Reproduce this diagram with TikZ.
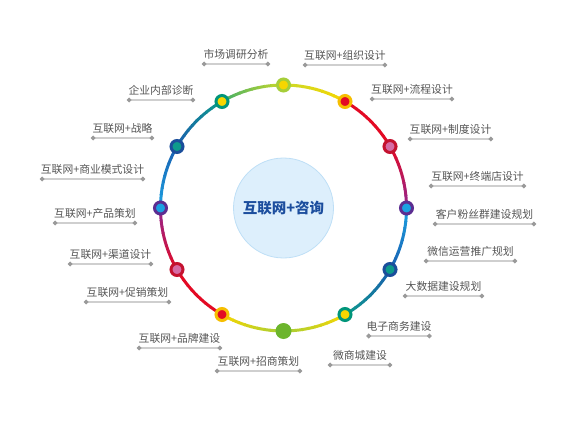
\documentclass[tikz,border=0pt]{standalone}
\usepackage{fontspec}
\usetikzlibrary{arrows.meta}
\newfontfamily\cjk{Noto Sans CJK SC}

\definecolor{jauneVert}{HTML}{CAD92A}
\definecolor{vertJaune}{HTML}{A6CE39}
\definecolor{jaune}{HTML}{F7D600}
\definecolor{rouge}{HTML}{E30A24}
\definecolor{violet}{HTML}{93268F}
\definecolor{bleuClair}{HTML}{1BA1E2}
\definecolor{bleuFonce}{HTML}{1A5EAF}
\definecolor{sarcelle}{HTML}{0E9A8C}
\definecolor{vertSarcelle}{HTML}{3FAE6A}
\definecolor{or}{HTML}{F6BE00}
\definecolor{cramoisi}{HTML}{C4122F}
\definecolor{rose}{HTML}{D66BA5}
\definecolor{violetFonce}{HTML}{5C2D91}
\definecolor{marine}{HTML}{1B4E9B}
\definecolor{vertFonce}{HTML}{00957A}
\definecolor{vertPomme}{HTML}{6CB52D}
\definecolor{ciel}{HTML}{DDEFFC}
\definecolor{cielBord}{HTML}{BEDFF6}
\definecolor{bleuTexte}{HTML}{1C4E9E}
\definecolor{grisTexte}{HTML}{555555}
\definecolor{grisTrait}{HTML}{CFCFCF}
\definecolor{grisPoint}{HTML}{9A9A9A}

\begin{document}
\begin{tikzpicture}[x=1pt,y=1pt]
    \tikzstyle{anneau}=[line width=3pt]
    \tikzstyle{pastille}=[circle, minimum size=12pt, inner sep=0pt, line width=3pt]
    \tikzstyle{etiquette}=[anchor=south, inner xsep=0pt, inner ysep=4pt, text height=8.5pt, text depth=1.5pt, font=\cjk\fontsize{10.8}{12}\selectfont, text=grisTexte]
    \tikzstyle{trait}=[line width=1.2pt, grisTrait, {Circle[length=4.6pt,color=grisPoint]}-{Circle[length=4.6pt,color=grisPoint]}]

    \useasboundingbox (0,0) rectangle (576,432);

    \begin{scope}[shift={(283.5,224)}]
        % coloured ring
        \foreach \a/\ca/\cb in {90/jauneVert/jaune, 60/rouge/rouge, 30/rouge/violet, 0/bleuClair/bleuFonce, -30/bleuFonce/sarcelle, -60/jaune/vertJaune, -90/vertJaune/jaune, -120/rouge/rouge, -150/rouge/violet, -180/bleuClair/bleuFonce, -210/bleuFonce/sarcelle, -240/vertSarcelle/jauneVert}
            \foreach \k in {0,...,9} {
                \pgfmathsetmacro\p{\k*10+5}
                \draw [anneau, color=\cb!\p!\ca] ({\a-3*\k}:123) arc [start angle={\a-3*\k}, delta angle=-3.4, radius=123];
            }
        % centre
        \node [circle, minimum size=100pt, fill=ciel, draw=cielBord, line width=0.8pt, text=bleuTexte, font=\cjk\bfseries\fontsize{14.5}{16}\selectfont] (centre) at (0,0) {互联网+咨询};
        % dots
        \node [pastille, draw=vertJaune, fill=jaune] (p90) at (90:123) {};
        \node [pastille, draw=or, fill=rouge] (p60) at (60:123) {};
        \node [pastille, draw=cramoisi, fill=rose] (p30) at (30:123) {};
        \node [pastille, draw=violetFonce, fill=bleuClair] (p0) at (0:123) {};
        \node [pastille, draw=marine, fill=sarcelle] (pm30) at (-30:123) {};
        \node [pastille, draw=vertFonce, fill=jaune] (pm60) at (-60:123) {};
        \node [circle, minimum size=16pt, inner sep=0pt, fill=vertPomme] (pm90) at (-90:123) {};
        \node [pastille, draw=or, fill=rouge] (pm120) at (-120:123) {};
        \node [pastille, draw=cramoisi, fill=rose] (pm150) at (-150:123) {};
        \node [pastille, draw=violetFonce, fill=bleuClair] (p180) at (180:123) {};
        \node [pastille, draw=marine, fill=sarcelle] (p150) at (150:123) {};
        \node [pastille, draw=vertFonce, fill=jaune] (p120) at (120:123) {};
    \end{scope}

    % right side labels
    \node [etiquette, minimum width=68pt] (tMarche) at (236,368) {市场调研分析};
    \draw [trait] (tMarche.south west) -- (tMarche.south east);
    \node [etiquette, minimum width=84pt] (tOrga) at (345,367) {互联网+组织设计};
    \draw [trait] (tOrga.south west) -- (tOrga.south east);
    \node [etiquette, minimum width=84pt] (tFlux) at (412,333) {互联网+流程设计};
    \draw [trait] (tFlux.south west) -- (tFlux.south east);
    \node [etiquette, minimum width=85pt] (tRegle) at (450.5,293) {互联网+制度设计};
    \draw [trait] (tRegle.south west) -- (tRegle.south east);
    \node [etiquette, minimum width=97pt] (tBoutique) at (477.5,246) {互联网+终端店设计};
    \draw [trait] (tBoutique.south west) -- (tBoutique.south east);
    \node [etiquette, minimum width=103pt] (tFans) at (484.5,208) {客户粉丝群建设规划};
    \draw [trait] (tFans.south west) -- (tFans.south east);
    \node [etiquette, minimum width=93pt] (tWeixin) at (470.5,171) {微信运营推广规划};
    \draw [trait] (tWeixin.south west) -- (tWeixin.south east);
    \node [etiquette, minimum width=81pt] (tDonnees) at (443.5,136) {大数据建设规划};
    \draw [trait] (tDonnees.south west) -- (tDonnees.south east);
    \node [etiquette, minimum width=64pt] (tCommerce) at (399,96) {电子商务建设};
    \draw [trait] (tCommerce.south west) -- (tCommerce.south east);
    \node [etiquette, minimum width=64pt] (tMicro) at (360,67) {微商城建设};
    \draw [trait] (tMicro.south west) -- (tMicro.south east);

    % left side labels
    \node [etiquette, minimum width=68pt] (tDiag) at (161,332) {企业内部诊断};
    \draw [trait] (tDiag.south west) -- (tDiag.south east);
    \node [etiquette, minimum width=63pt] (tStrat) at (122.5,294) {互联网+战略};
    \draw [trait] (tStrat.south west) -- (tStrat.south east);
    \node [etiquette, minimum width=105pt] (tModele) at (92.5,253) {互联网+商业模式设计};
    \draw [trait] (tModele.south west) -- (tModele.south east);
    \node [etiquette, minimum width=84pt] (tProduit) at (95,209) {互联网+产品策划};
    \draw [trait] (tProduit.south west) -- (tProduit.south east);
    \node [etiquette, minimum width=85pt] (tCanal) at (110.5,168) {互联网+渠道设计};
    \draw [trait] (tCanal.south west) -- (tCanal.south east);
    \node [etiquette, minimum width=87pt] (tPromo) at (127.5,130) {互联网+促销策划};
    \draw [trait] (tPromo.south west) -- (tPromo.south east);
    \node [etiquette, minimum width=85pt] (tMarque) at (179.5,84) {互联网+品牌建设};
    \draw [trait] (tMarque.south west) -- (tMarque.south east);
    \node [etiquette, minimum width=87pt] (tInvest) at (258.5,61) {互联网+招商策划};
    \draw [trait] (tInvest.south west) -- (tInvest.south east);
\end{tikzpicture}
\end{document}
